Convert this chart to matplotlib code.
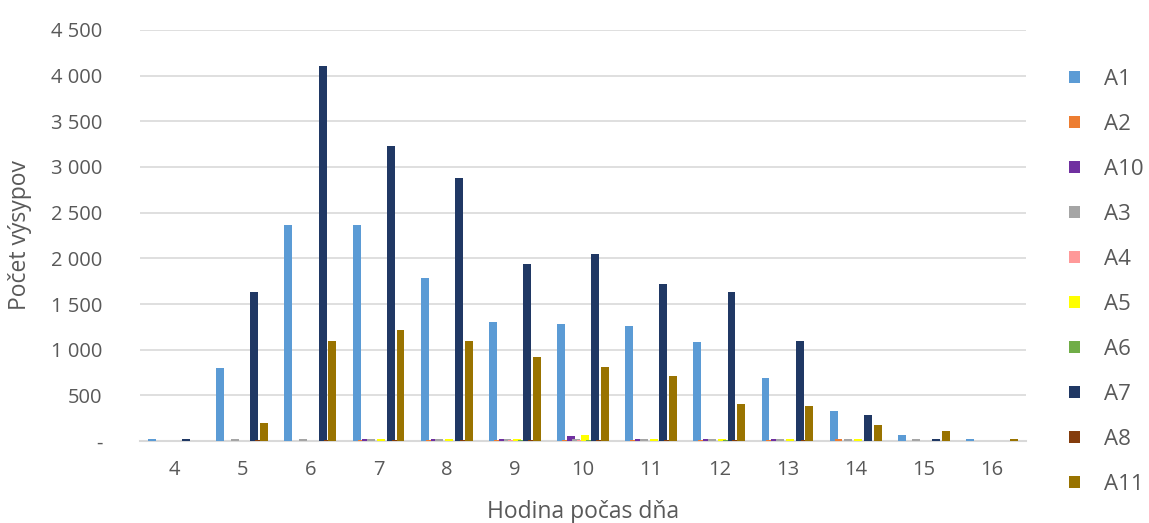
import matplotlib
matplotlib.use("Agg")
import matplotlib.pyplot as plt
import numpy as np
from matplotlib.patches import Patch

plt.rcParams['font.family'] = ['Open Sans', 'DejaVu Sans']

hodiny = [4, 5, 6, 7, 8, 9, 10, 11, 12, 13, 14, 15, 16]

a1 = [25, 800, 2360, 2360, 1790, 1300, 1280, 1260, 1080, 690, 330, 70, 25]
a2 = [0, 0, 0, 15, 15, 15, 15, 15, 15, 15, 20, 0, 0]
a10 = [0, 0, 0, 20, 20, 20, 50, 20, 25, 20, 0, 0, 0]
a3 = [0, 20, 20, 25, 20, 20, 20, 20, 20, 20, 20, 20, 0]
a4 = [0, 0, 0, 0, 0, 10, 15, 0, 0, 0, 0, 0, 0]
a5 = [0, 0, 0, 20, 20, 20, 70, 20, 20, 20, 20, 0, 0]
a6 = [0, 0, 0, 0, 0, 10, 15, 0, 10, 0, 0, 0, 0]
a7 = [20, 1630, 4110, 3230, 2880, 1940, 2050, 1720, 1630, 1100, 290, 25, 0]
a8 = [0, 15, 15, 15, 15, 15, 15, 15, 15, 15, 0, 0, 0]
a11 = [0, 200, 1100, 1210, 1100, 920, 810, 710, 400, 380, 180, 110, 25]

nazvy = ["A1", "A2", "A10", "A3", "A4", "A5", "A6", "A7", "A8", "A11"]
serie = [a1, a2, a10, a3, a4, a5, a6, a7, a8, a11]
farby = ["#5B9BD5", "#ED7D31", "#7030A0", "#A5A5A5", "#FF9999",
         "#FFFF00", "#70AD47", "#203864", "#843C0C", "#997300"]

sivy = "#595959"

fig = plt.figure(figsize=(11.49, 5.23), dpi=100)
ax = fig.add_axes([140 / 1149, 82 / 523, 886 / 1149, 411 / 523])

x = np.arange(len(hodiny))
krok = 0.0716
sirka = 0.116
for j, (hodnoty, farba) in enumerate(zip(serie, farby)):
    ax.bar(x + (j - 4.5) * krok, hodnoty, width=sirka, color=farba, zorder=3)

ax.set_xlim(-0.5, len(hodiny) - 0.5)
ax.set_ylim(0, 4500)
yt = np.arange(0, 4501, 500)
ax.set_yticks(yt)
ax.set_yticklabels(["-"] + [f"{v:,}".replace(",", " ") for v in yt[1:]])
ax.set_xticks(x)
ax.set_xticklabels([str(h) for h in hodiny])
ax.tick_params(axis="both", length=0, colors=sivy, labelsize=14.5)
ax.tick_params(axis="y", pad=27)
ax.tick_params(axis="x", pad=14)
ax.grid(axis="y", color="#D9D9D9", linewidth=1.2, zorder=0)
for s in ["top", "right", "left"]:
    ax.spines[s].set_visible(False)
ax.spines["bottom"].set_color("#D9D9D9")
ax.spines["bottom"].set_linewidth(1.5)

fig.text(583 / 1149, 1 - 512 / 523, "Hodina počas dňa", ha="center", va="center",
         fontsize=16.5, color=sivy)
fig.text(20 / 1149, 1 - 235 / 523, "Počet výsypov", ha="center", va="center",
         rotation=90, fontsize=16.5, color=sivy)

handles = [Patch(facecolor=f, edgecolor="none") for f in farby]
fig.legend(handles, nazvy, loc="upper left", bbox_to_anchor=(1060 / 1149, 1 - 60 / 523),
           frameon=False, fontsize=16, labelcolor=sivy, handlelength=0.5,
           handleheight=0.5, handletextpad=1.08, labelspacing=1.08, borderaxespad=0)

fig.savefig("out.png", dpi=100)
